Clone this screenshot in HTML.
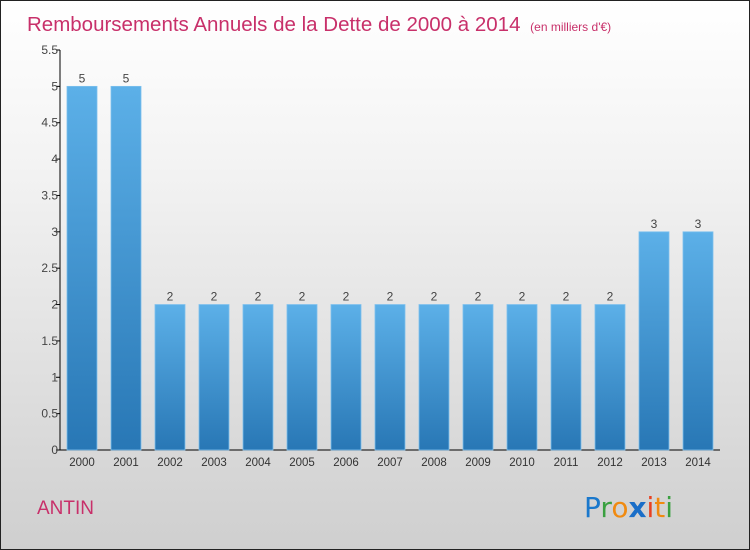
<!DOCTYPE html>
<html><head><meta charset="utf-8"><style>
body{margin:0;}
#wrap{width:748px;height:548px;border:1px solid #222;background:linear-gradient(#ffffff,#f3f3f3 30%,#cfcfcf);position:relative;overflow:hidden;font-family:"Liberation Sans",sans-serif;}
</style></head><body>
<div id="wrap">
<svg width="748" height="548" id="svg">
<defs><linearGradient id="bg" x1="0" y1="0" x2="0" y2="1"><stop offset="0" stop-color="#5cb0e8"/><stop offset="1" stop-color="#2877b5"/></linearGradient></defs>
<text x="26" y="30" font-size="20.5" fill="#c8306a">Remboursements Annuels de la Dette de 2000 à 2014 <tspan font-size="12" dx="4">(en milliers d'€)</tspan></text>
<text x="36" y="513" font-size="19" fill="#c8306a">ANTIN</text>
<g font-size="28" font-family="'DejaVu Sans',sans-serif">
<text x="583" y="516"><tspan fill="#1a78cc">P</tspan><tspan fill="#3aa040">r</tspan><tspan fill="#f08a10">o</tspan><tspan fill="#1a6ec8" font-weight="bold">x</tspan><tspan fill="#e84020">i</tspan><tspan fill="#f08a10">t</tspan><tspan fill="#3aa040">i</tspan></text></g>
<g id="g"></g>
</svg></div>
<script>
const years=["2000","2001","2002","2003","2004","2005","2006","2007","2008","2009","2010","2011","2012","2013","2014"];
const values=[5,5,2,2,2,2,2,2,2,2,2,2,2,3,3];
const ticks=[0,0.5,1,1.5,2,2.5,3,3.5,4,4.5,5,5.5];
const tickLabels=["0","0.5","1","1.5","2","2.5","3","3.5","4","4.5","5","5.5"];
const g=document.getElementById('g'),NS="http://www.w3.org/2000/svg";
const x0=59,x1=719,y0=449,yTop=49,maxV=5.5;
const y=v=>y0-(v/maxV)*(y0-yTop);
const bw=(x1-x0)/years.length;
function el(t,a,txt){const e=document.createElementNS(NS,t);for(const k in a)e.setAttribute(k,a[k]);if(txt!==undefined)e.textContent=txt;g.appendChild(e);return e;}
let ax=el('line',{x1:x0,y1:yTop,x2:x0,y2:y0,stroke:'#000'});

let bx=el('line',{x1:x0,y1:y0,x2:x1,y2:y0,stroke:'#000'});

ticks.forEach((t,i)=>{
 let l=el('line',{x1:x0-4,y1:y(t),x2:x0,y2:y(t),stroke:'#000'});
 
 let tx=el('text',{x:x0-2,y:y(t)+4,'text-anchor':'end','font-size':12,fill:'#444'},tickLabels[i]);
 
});
years.forEach((yr,i)=>{
 const cx=x0+bw*(i+0.5),v=values[i];
 let r=el('rect',{x:cx-15,y:y(v),width:30,height:y0-y(v),fill:'url(#bg)',stroke:'#7cc0ee','stroke-width':0.8});
 
 let vt=el('text',{x:cx,y:y(v)-4,'text-anchor':'middle','font-size':12,fill:'#444'},String(v));
 
 let xt=el('text',{x:cx,y:y0+16,'text-anchor':'middle','font-size':11.5,fill:'#333'},yr);
 
});
</script>
</body></html>
